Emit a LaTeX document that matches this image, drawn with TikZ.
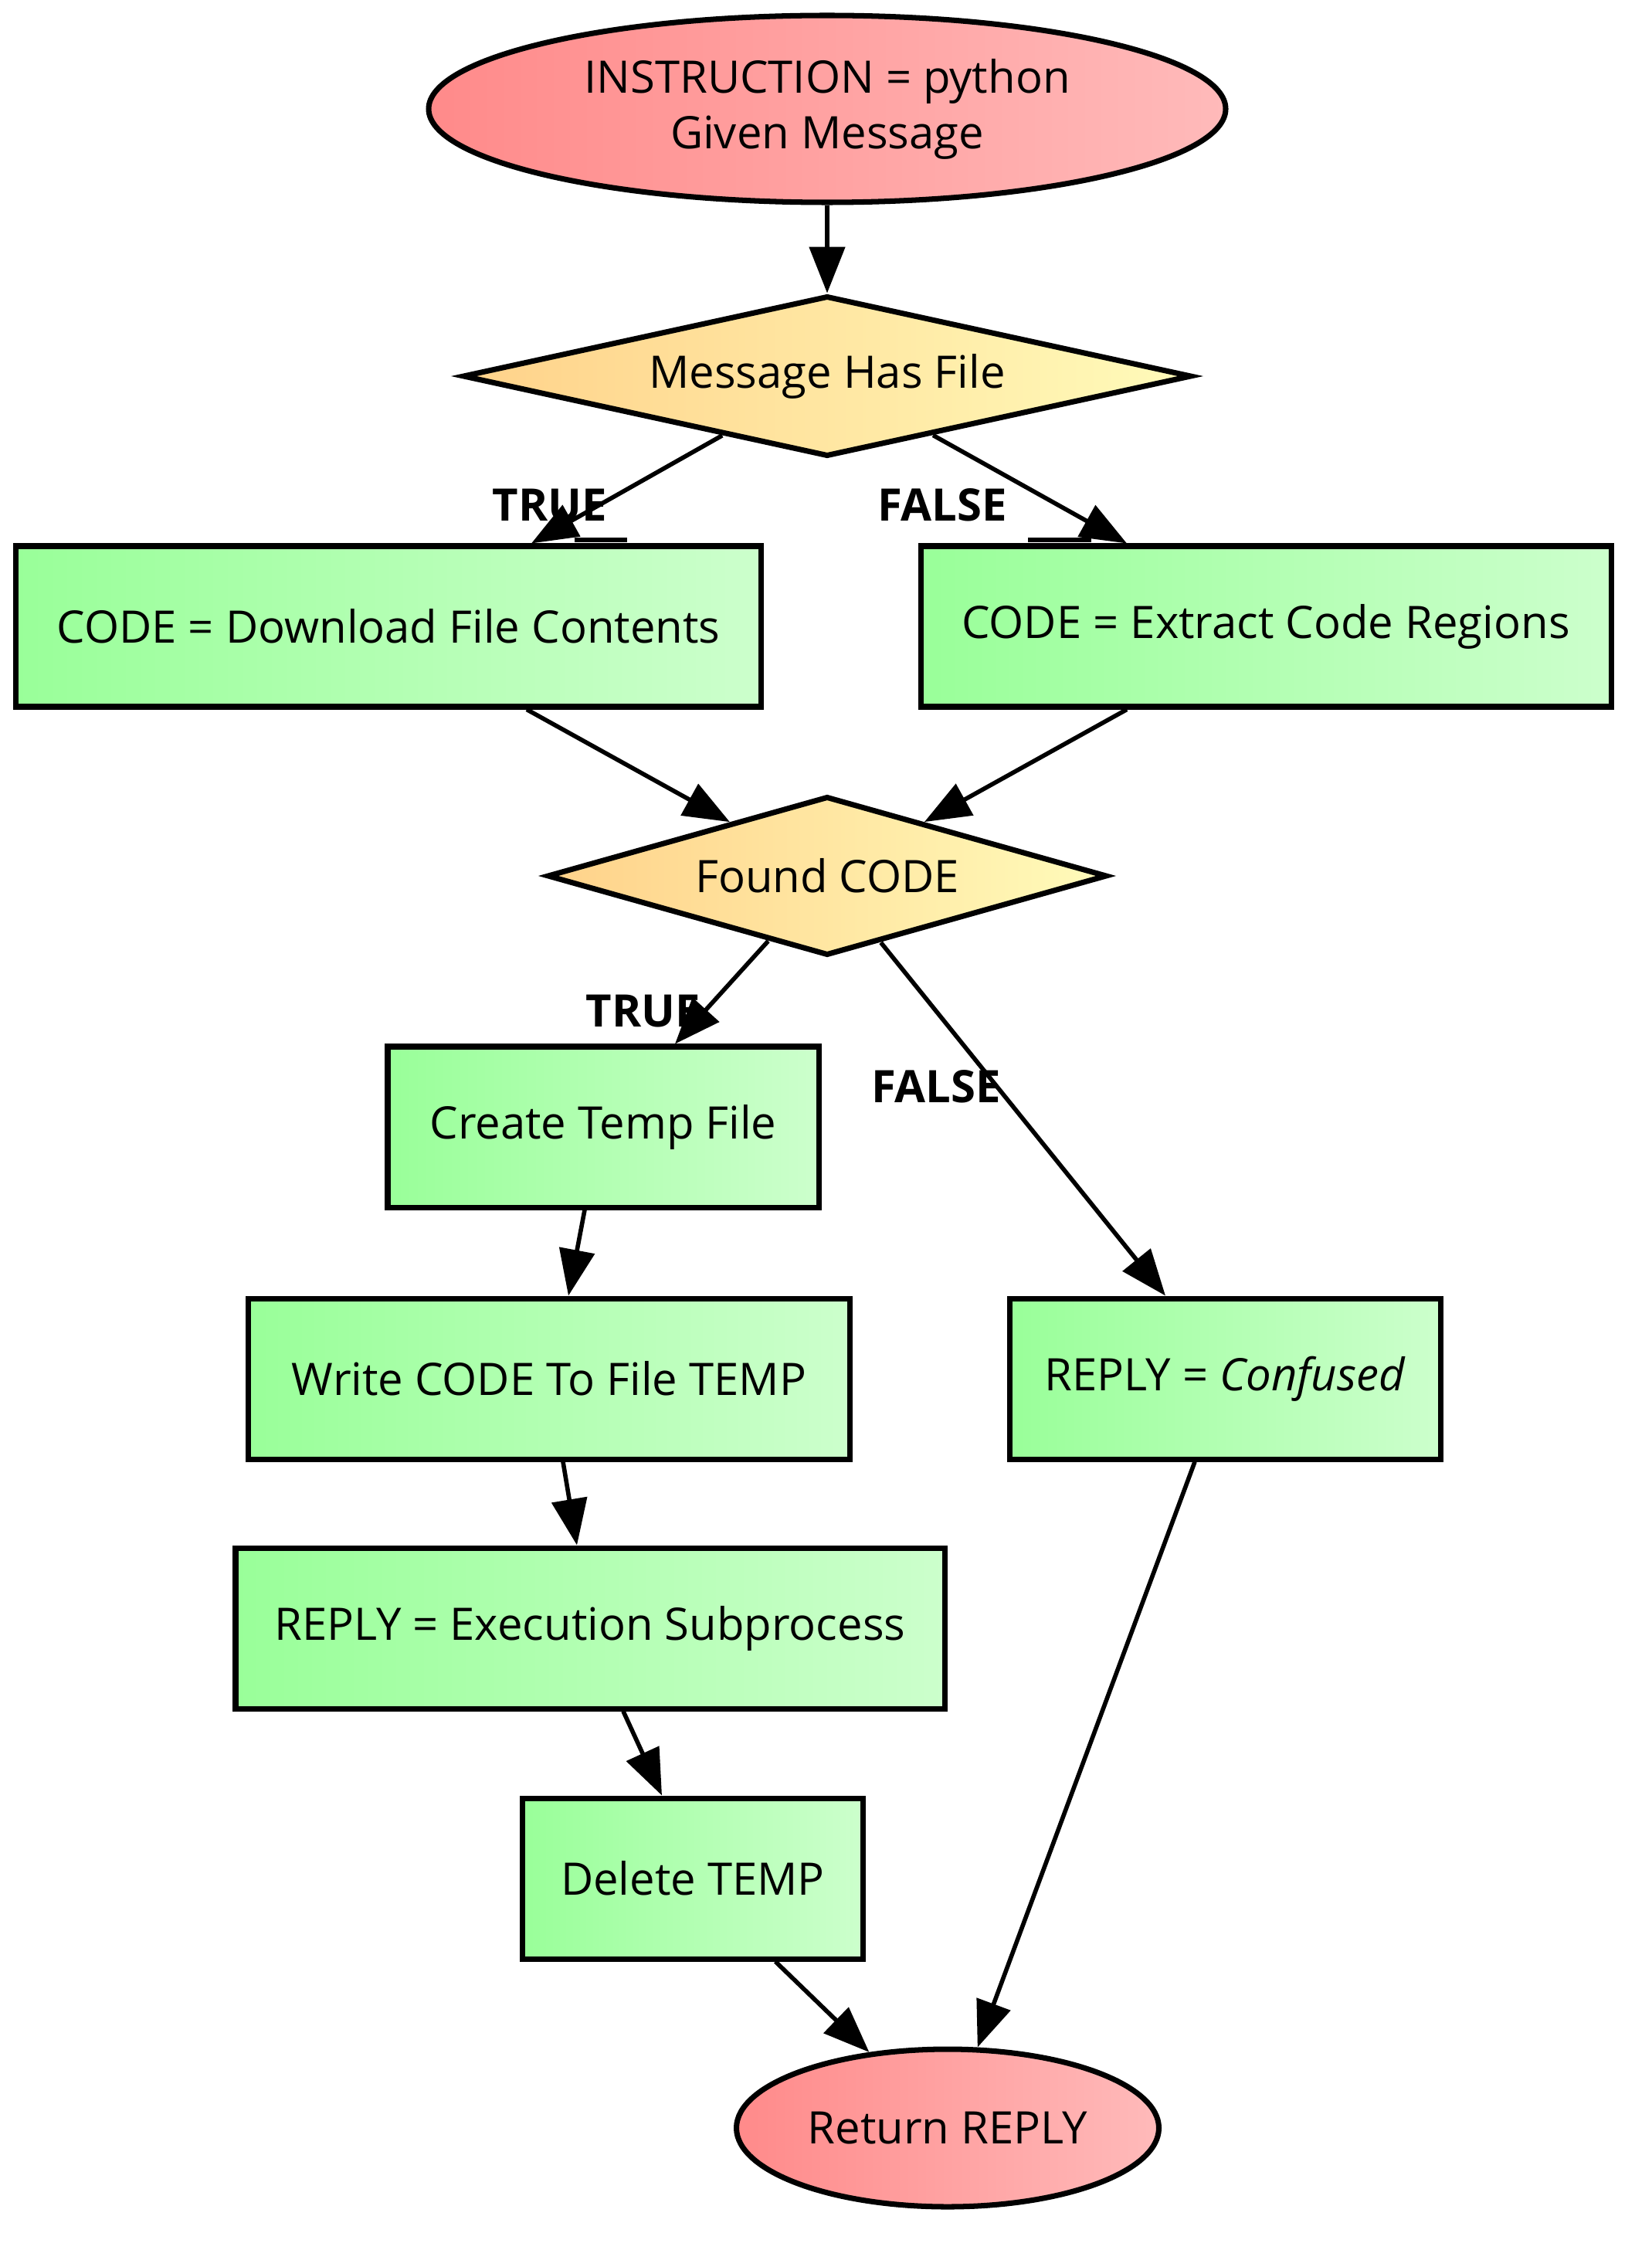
\documentclass[tikz,border=0pt]{standalone}
\usepackage{fontspec}
\setmainfont{Open Sans}
\usetikzlibrary{shapes.geometric}
\usetikzlibrary{arrows.meta}
\definecolor{termL}{HTML}{FF8A8A}
\definecolor{termR}{HTML}{FFBABA}
\definecolor{askL}{HTML}{FFD28A}
\definecolor{askR}{HTML}{FFFBBA}
\definecolor{stepL}{HTML}{99FF99}
\definecolor{stepR}{HTML}{CCFFCC}
\begin{document}
\begin{tikzpicture}[>={Triangle[length=17pt,width=13pt]},
  every node/.style={font=\fontsize{16.5}{20.5}\selectfont},
  term/.style={ellipse,draw,line width=2pt,left color=termL,right color=termR,inner sep=0pt},
  ask/.style={diamond,draw,line width=2pt,left color=askL,right color=askR,inner sep=0pt,aspect=#1},
  stepbox/.style={rectangle,draw,line width=2pt,left color=stepL,right color=stepR,minimum height=2.08cm,minimum width=#1},
  flow/.style={->,line width=1.6pt},
  tag/.style={font=\fontsize{16.5}{20.5}\selectfont\bfseries}]
\useasboundingbox (0,0) rectangle (21.38,-29.13);
% nodes
\node[term,minimum width=10.32cm,minimum height=2.42cm,align=center] (start) at (10.71,-1.41) {INSTRUCTION = python\\Given Message};
\node[ask=4.54,minimum width=9.44cm,minimum height=2.08cm] (hasfile) at (10.71,-4.87) {Message Has File};
\node[stepbox=9.65cm] (download) at (5.03,-8.11) {CODE = Download File Contents};
\node[stepbox=8.94cm] (extract) at (16.39,-8.11) {CODE = Extract Code Regions};
\node[ask=3.52,minimum width=7.25cm,minimum height=2.06cm] (found) at (10.71,-11.34) {Found CODE};
\node[stepbox=5.58cm] (temp) at (7.81,-14.59) {Create Temp File};
\node[stepbox=7.79cm] (write) at (7.11,-17.85) {Write CODE To File TEMP};
\node[stepbox=5.58cm] (confused) at (15.86,-17.85) {REPLY = \textit{Confused}};
\node[stepbox=9.18cm] (exec) at (7.64,-21.08) {REPLY = Execution Subprocess};
\node[stepbox=4.41cm] (delete) at (8.97,-24.32) {Delete TEMP};
\node[term,minimum width=5.47cm,minimum height=2.04cm] (return) at (12.27,-27.55) {Return REPLY};
% labels
\node[tag] (t1) at (7.12,-6.54) {TRUE};
\node[tag] (f1) at (12.20,-6.54) {FALSE};
\node[tag] (t2) at (8.33,-13.09) {TRUE};
\node[tag] (f2) at (12.12,-14.07) {FALSE};
\draw[line width=1.6pt] (7.44,-6.99)--(8.12,-6.99);
\draw[line width=1.6pt] (13.31,-6.99)--(14.13,-6.99);
% edges
\draw[flow] (start)--(hasfile);
\draw[flow] (hasfile)--([xshift=1.85cm]download.north);
\draw[flow] (hasfile)--([xshift=-1.80cm]extract.north);
\draw[flow] ([xshift=1.79cm]download.south)--(found);
\draw[flow] ([xshift=-1.80cm]extract.south)--(found);
\draw[flow] (found)--([xshift=0.93cm]temp.north);
\draw[flow] (found)--([xshift=-0.77cm]confused.north);
\draw[flow] ([xshift=-0.24cm]temp.south)--([xshift=0.25cm]write.north);
\draw[flow] ([xshift=0.18cm]write.south)--([xshift=-0.17cm]exec.north);
\draw[flow] ([xshift=0.43cm]exec.south)--([xshift=-0.40cm]delete.north);
\draw[flow] ([xshift=1.07cm]delete.south)--(return);
\draw[flow] ([xshift=-0.39cm]confused.south)--(return);
\end{tikzpicture}
\end{document}
